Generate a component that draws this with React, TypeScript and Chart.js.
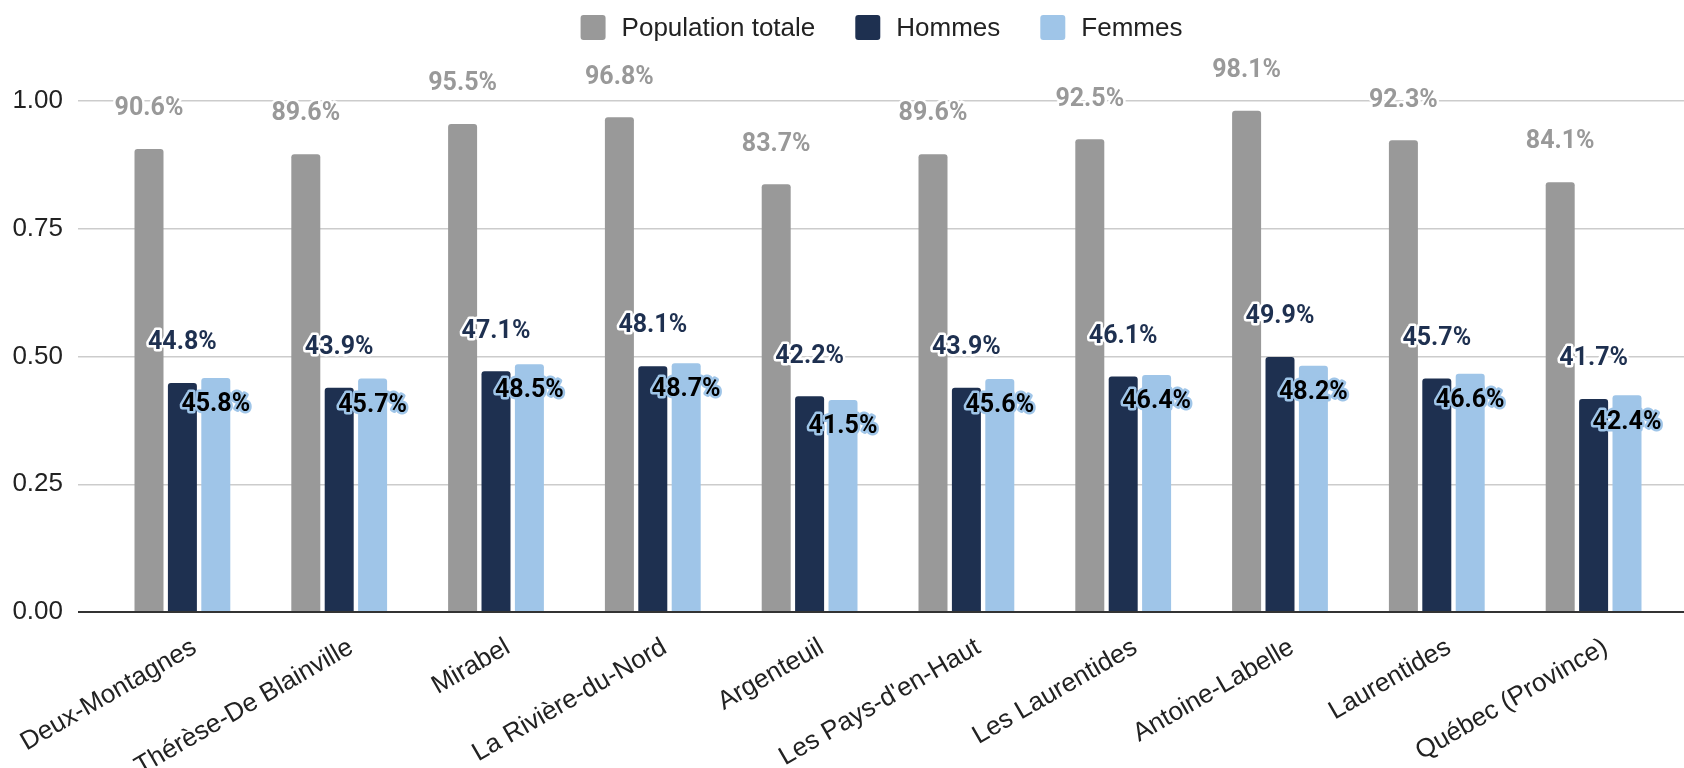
import { useEffect, useRef } from "react";
import { Chart, registerables } from "chart.js";

Chart.register(...registerables);

const categories = [
  "Deux-Montagnes",
  "Thérèse-De Blainville",
  "Mirabel",
  "La Rivière-du-Nord",
  "Argenteuil",
  "Les Pays-d'en-Haut",
  "Les Laurentides",
  "Antoine-Labelle",
  "Laurentides",
  "Québec (Province)",
];
const seriesNames = ["Population totale", "Hommes", "Femmes"];
const populationTotale = [0.906, 0.896, 0.955, 0.968, 0.837, 0.896, 0.925, 0.981, 0.923, 0.841];
const hommes = [0.448, 0.439, 0.471, 0.481, 0.422, 0.439, 0.461, 0.499, 0.457, 0.417];
const femmes = [0.458, 0.457, 0.485, 0.487, 0.415, 0.456, 0.464, 0.482, 0.466, 0.424];
const yMin = 0;
const yMax = 1;
const yStep = 0.25;

const AXIS_FONT = "'Liberation Sans', Arial, sans-serif";
const LABEL_FONT = "Roboto, 'Liberation Sans', sans-serif";
const COLORS = ["#999999", "#1e3050", "#9fc5e8"];
const LABEL_STYLES = [
  { fill: "#999999", stroke: "#ffffff", dy: -40 },
  { fill: "#1e3050", stroke: "#ffffff", dy: -40 },
  { fill: "#000000", stroke: "#9fc5e8", dy: 27 },
];

const valueLabelPlugin = {
  id: "valueLabels",
  afterDatasetsDraw(chart: any) {
    const ctx = chart.ctx;
    ctx.save();
    ctx.font = `bold 25px ${LABEL_FONT}`;
    ctx.textAlign = "center";
    ctx.textBaseline = "middle";
    ctx.lineJoin = "round";
    chart.data.datasets.forEach((ds: any, di: number) => {
      const meta = chart.getDatasetMeta(di);
      const st = LABEL_STYLES[di];
      meta.data.forEach((el: any, i: number) => {
        const v = ds.data[i] as number;
        const text = (v * 100).toFixed(1) + "%";
        const y = el.y + st.dy;
        ctx.lineWidth = 5;
        ctx.strokeStyle = st.stroke;
        ctx.strokeText(text, el.x, y);
        ctx.fillStyle = st.fill;
        ctx.fillText(text, el.x, y);
      });
    });
    ctx.restore();
  },
};

const legendPlugin = {
  id: "topLegend",
  afterDraw(chart: any) {
    const { ctx, chartArea } = chart;
    ctx.save();
    ctx.font = `26px ${AXIS_FONT}`;
    ctx.textBaseline = "middle";
    ctx.textAlign = "left";
    const box = 25;
    const gapText = 16;
    const gapItem = 40;
    const items = chart.data.datasets.map((ds: any) => ({
      text: ds.label as string,
      color: ds.backgroundColor as string,
      w: ctx.measureText(ds.label).width as number,
    }));
    const total =
      items.reduce((s: number, it: any) => s + box + gapText + it.w, 0) +
      gapItem * (items.length - 1);
    let x = (chartArea.left + chartArea.right) / 2 - 6.5 - total / 2;
    const cy = 27.5;
    items.forEach((it: any) => {
      ctx.fillStyle = it.color;
      ctx.beginPath();
      if (ctx.roundRect) ctx.roundRect(x, cy - box / 2, box, box, 3);
      else ctx.rect(x, cy - box / 2, box, box);
      ctx.fill();
      x += box + gapText;
      ctx.fillStyle = "#222222";
      ctx.fillText(it.text, x, cy + 1);
      x += it.w + gapItem;
    });
    ctx.restore();
  },
};

const gridColor = (c: any) => (c.tick && c.tick.value === 0 ? "#333333" : "#cccccc");
const gridWidth = (c: any) => (c.tick && c.tick.value === 0 ? 2 : 1.5);

export default function App() {
  const canvasRef = useRef<HTMLCanvasElement | null>(null);

  useEffect(() => {
    document.body.style.margin = "0";
    const canvas = canvasRef.current;
    if (!canvas) return;
    const chart = new Chart(canvas, {
      type: "bar",
      data: {
        labels: categories,
        datasets: [
          { label: seriesNames[0], data: populationTotale, backgroundColor: COLORS[0] },
          { label: seriesNames[1], data: hommes, backgroundColor: COLORS[1] },
          { label: seriesNames[2], data: femmes, backgroundColor: COLORS[2] },
        ],
      },
      options: {
        animation: false,
        responsive: true,
        maintainAspectRatio: false,
        layout: { padding: { top: 101, left: 0, right: 0, bottom: 0 } },
        datasets: {
          bar: {
            barPercentage: 0.868,
            categoryPercentage: 0.639,
            borderRadius: 3,
            borderSkipped: "start",
          },
        },
        plugins: {
          legend: { display: false },
          tooltip: { enabled: false },
        },
        scales: {
          x: {
            afterFit: (s: any) => {
              s.height = 156;
              s.paddingLeft = 0;
              s.paddingRight = 0;
            },
            ticks: {
              autoSkip: false,
              minRotation: 30,
              maxRotation: 30,
              padding: 20,
              labelOffset: 12,
              color: "#222222",
              font: { family: AXIS_FONT, size: 26 },
            },
            grid: { display: false, drawTicks: false },
            border: { display: false },
          },
          y: {
            min: yMin,
            max: yMax,
            afterFit: (s: any) => {
              s.width = 104;
            },
            ticks: {
              stepSize: yStep,
              padding: 15,
              color: "#222222",
              font: { family: AXIS_FONT, size: 26 },
              callback: (v: any) => Number(v).toFixed(2),
            },
            grid: { color: gridColor, lineWidth: gridWidth, tickLength: 26 },
            border: { display: false },
          },
          y2: {
            position: "right",
            min: yMin,
            max: yMax,
            afterFit: (s: any) => {
              s.width = 12;
            },
            ticks: { stepSize: yStep, display: false },
            grid: { color: gridColor, lineWidth: gridWidth, tickLength: 12, drawOnChartArea: false },
            border: { display: false },
          },
        },
      },
      plugins: [valueLabelPlugin, legendPlugin],
    } as any);
    return () => chart.destroy();
  }, []);

  return (
    <div style={{ position: "relative", width: "1684px", height: "768px" }}>
      <canvas ref={canvasRef} />
    </div>
  );
}
